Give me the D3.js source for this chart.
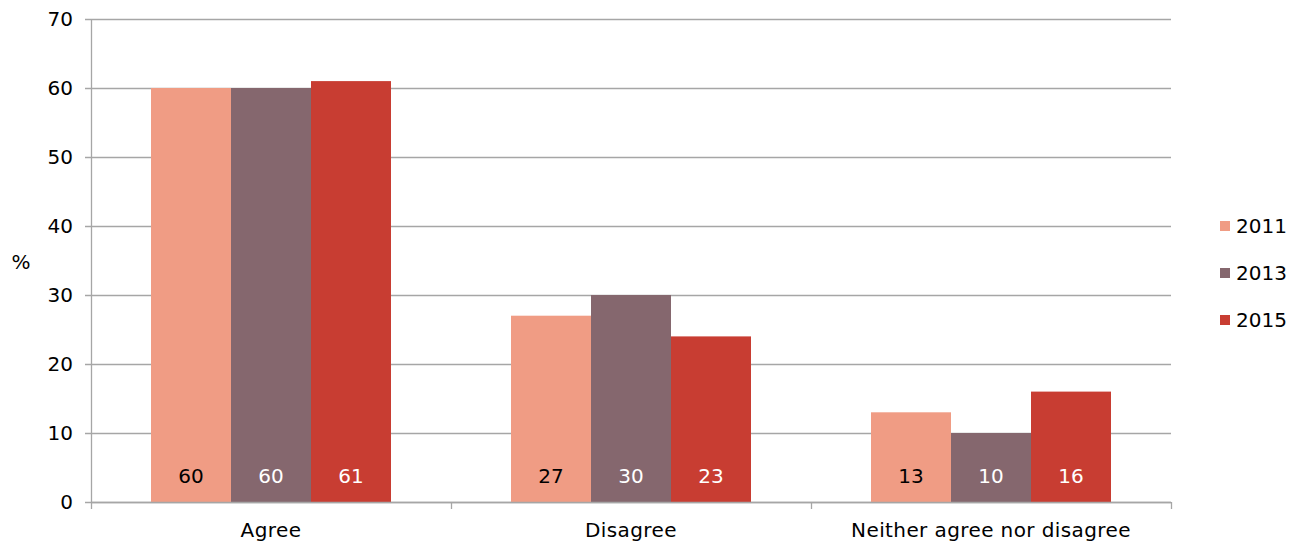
<!DOCTYPE html>
<html><head><meta charset="utf-8">
<script src="https://cdn.jsdelivr.net/npm/d3@7"></script>
<style>body{margin:0;background:#fff}svg{display:block;font-family:"DejaVu Sans",Verdana,sans-serif}</style>
</head><body><svg id="c" width="1306" height="543"></svg>
<script>
const categories = ["Agree", "Disagree", "Neither agree nor disagree"];
const series = ["2011", "2013", "2015"];
const v2011 = [60, 27, 13];
const v2013 = [60, 30, 10];
const v2015 = [61, 24, 16];
const labels2011 = ["60", "27", "13"];
const labels2013 = ["60", "30", "10"];
const labels2015 = ["61", "23", "16"];
const yTicks = [0, 10, 20, 30, 40, 50, 60, 70];
const colors = ["#F09C84", "#85676E", "#C83D32"];
const labelColors = ["#000", "#fff", "#fff"];

const values = [v2011, v2013, v2015];
const labs = [labels2011, labels2013, labels2015];
const svg = d3.select("#c");
const L = 91, R = 1171, T = 19, B = 502;
const FS = 20;
const y = d3.scaleLinear().domain([0, 70]).range([B, T]);
const x = d3.scaleBand().domain(categories).range([L, R]).paddingInner(0).paddingOuter(0);
const xs = d3.scaleBand().domain(series).range([0, x.bandwidth()]).paddingInner(0).paddingOuter(0.75);
const grid = "#A6A6A6";

// gridlines
svg.append("g").selectAll("line").data(yTicks).join("line")
  .attr("x1", L - 6).attr("x2", R).attr("y1", d => Math.round(y(d)) + 0.5).attr("y2", d => Math.round(y(d)) + 0.5)
  .attr("stroke", grid).attr("stroke-width", 1.3);
// y axis line
svg.append("line").attr("x1", L + 0.5).attr("x2", L + 0.5).attr("y1", T).attr("y2", B + 0.5).attr("stroke", grid).attr("stroke-width", 1.3);
// y tick labels
svg.append("g").selectAll("text").data(yTicks).join("text")
  .attr("x", 73).attr("y", d => y(d)).attr("dy", "0.35em").attr("text-anchor", "end")
  .attr("font-size", FS).attr("fill", "#000").text(d => d);
svg.append("text").attr("x", 21).attr("y", 262).attr("dy", "0.35em").attr("text-anchor", "middle").attr("font-size", FS).text("%");

// bars
series.forEach((s, i) => {
  const g = svg.append("g");
  g.selectAll("rect").data(categories).join("rect")
    .attr("x", c => x(c) + xs(s)).attr("width", xs.bandwidth())
    .attr("y", (c, j) => y(values[i][j])).attr("height", (c, j) => B - y(values[i][j]))
    .attr("fill", colors[i]);
  g.selectAll("text").data(categories).join("text")
    .attr("x", c => x(c) + xs(s) + xs.bandwidth() / 2).attr("y", 476).attr("dy", "0.35em")
    .attr("text-anchor", "middle").attr("font-size", FS).attr("fill", labelColors[i])
    .text((c, j) => labs[i][j]);
});

// x axis
svg.append("line").attr("x1", L).attr("x2", R).attr("y1", B + 0.5).attr("y2", B + 0.5).attr("stroke", grid).attr("stroke-width", 1.3);
const bounds = categories.map(c => x(c)).concat([R]);
svg.append("g").selectAll("line").data(bounds).join("line")
  .attr("x1", d => Math.round(d) + 0.5).attr("x2", d => Math.round(d) + 0.5).attr("y1", B).attr("y2", B + 7)
  .attr("stroke", grid).attr("stroke-width", 1.3);
svg.append("g").selectAll("text").data(categories).join("text")
  .attr("x", c => x(c) + x.bandwidth() / 2).attr("y", 530).attr("dy", "0.35em")
  .attr("text-anchor", "middle").attr("font-size", FS).attr("letter-spacing", 0.4).text(c => c);

// legend
const lg = svg.append("g");
series.forEach((s, i) => {
  const cy = 226 + i * 47;
  lg.append("rect").attr("x", 1220).attr("y", cy - 5).attr("width", 10).attr("height", 10).attr("fill", colors[i]);
  lg.append("text").attr("x", 1236).attr("y", cy).attr("dy", "0.35em").attr("font-size", FS).text(s);
});
</script></body></html>
